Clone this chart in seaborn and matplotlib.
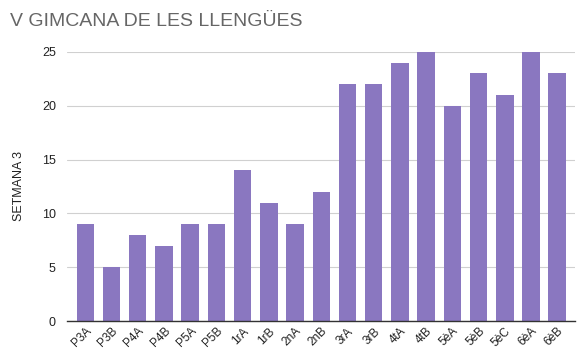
import matplotlib
matplotlib.use("Agg")
import matplotlib.pyplot as plt
import seaborn as sns
import pandas as pd

categories = ["P3A", "P3B", "P4A", "P4B", "P5A", "P5B", "1rA", "1rB", "2nA", "2nB",
              "3rA", "3rB", "4tA", "4tB", "5èA", "5èB", "5èC", "6èA", "6èB"]
values = [9, 5, 8, 7, 9, 9, 14, 11, 9, 12, 22, 22, 24, 25, 20, 23, 21, 25, 23]
yticks = [0, 5, 10, 15, 20, 25]

sns.set_style("white")
plt.rcParams['font.family'] = ['Liberation Sans', 'DejaVu Sans']

df = pd.DataFrame({"cat": categories, "val": values})
fig = plt.figure(figsize=(5.86, 3.6), dpi=100)
ax = fig.add_axes([0.1143, 0.108, 0.867, 0.748])
sns.barplot(data=df, x="cat", y="val", color="#8a77c0", saturation=1, width=0.665,
            linewidth=0, edgecolor="none", ax=ax, zorder=3)
ax.set_xlim(-0.70, 18.68)
ax.set_ylim(0, 25)
ax.set_yticks(yticks)
ax.yaxis.grid(True, color="#d0d0d0", linewidth=0.8, zorder=0)
for s in ["top", "right", "left"]:
    ax.spines[s].set_visible(False)
ax.spines["bottom"].set_color("#333333")
ax.spines["bottom"].set_linewidth(1)
ax.spines["bottom"].set_zorder(4)
ax.tick_params(axis="y", length=0, labelsize=9, labelcolor="#222222", pad=8)
ax.tick_params(axis="x", length=0, labelsize=8.5, labelcolor="#222222", pad=3)
for lbl in ax.get_xticklabels():
    lbl.set_rotation(45)
    lbl.set_ha("right")
    lbl.set_rotation_mode("anchor")
ax.set_xlabel("")
ax.set_ylabel("SETMANA 3", fontsize=9, color="#222222", labelpad=12)
fig.text(0.017, 0.94, "V GIMCANA DE LES LLENGÜES", fontsize=14, color="#666666", va="center")
fig.savefig("out.png", dpi=100)
